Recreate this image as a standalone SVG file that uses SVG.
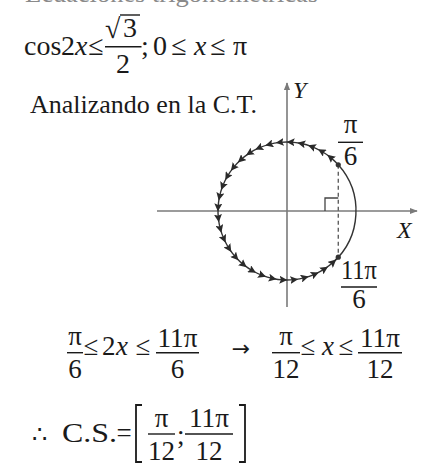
<svg xmlns="http://www.w3.org/2000/svg" width="447" height="475" viewBox="0 0 447 475">
<style>
text{font-family:"Liberation Serif","DejaVu Serif",serif;fill:#1a1a1a}
.m{font-size:28px}
.f{font-size:27px}
.i{font-style:italic}
.c{text-anchor:middle}
.bar{stroke:#1a1a1a;stroke-width:1.4}
.ax{stroke:#7a7a7a;stroke-width:1.6;fill:none}
</style>
<defs>
<marker id="ah" viewBox="0 0 10 10" refX="5" refY="5" markerWidth="8" markerHeight="8" markerUnits="userSpaceOnUse" orient="auto">
<path d="M0,0 L10,5 L0,10 L2,5 Z" fill="#2a2a2a"/>
</marker>
<marker id="axh" viewBox="0 0 10 10" refX="9" refY="5" markerWidth="8" markerHeight="8" markerUnits="userSpaceOnUse" orient="auto">
<path d="M0,1 L10,5 L0,9 Z" fill="#7a7a7a"/>
</marker>
</defs>

<text x="25" y="2" font-size="26" style="fill:#8a8a8a" textLength="293" lengthAdjust="spacingAndGlyphs">Ecuaciones trigonométricas</text>

<g id="equation">
<text class="m" x="24" y="55">cos</text>
<text class="m" x="61" y="55">2</text>
<text class="m i" x="75" y="55">x</text>
<text class="m c" x="96" y="55">≤</text>
<text class="m" x="105" y="38">√</text>
<line x1="120" y1="15" x2="140" y2="15" class="bar"/>
<text class="m" x="123" y="37">3</text>
<line x1="105" y1="46.7" x2="141.5" y2="46.7" class="bar"/>
<text class="m c" x="123" y="73">2</text>
<text class="m" x="141" y="55">;</text>
<text class="m" x="153" y="55">0</text>
<text class="m c" x="179" y="55">≤</text>
<text class="m i" x="194" y="55">x</text>
<text class="m c" x="218" y="55">≤</text>
<text class="m" x="233" y="55">π</text>
</g>

<text id="analizando" x="30" y="113" font-size="26" textLength="227" lengthAdjust="spacingAndGlyphs">Analizando en la C.T.</text>

<g id="connectors">
<line x1="157" y1="211" x2="417" y2="211" class="ax" marker-end="url(#axh)"/>
<line x1="287" y1="307" x2="287" y2="83" class="ax" marker-end="url(#axh)"/>
<path d="M333.17,262.27 A69,69 0 0 0 338.27,164.83" fill="none" stroke="#333" stroke-width="1.4"/>
<path d="M338.27,164.83 A69,69 0 0 0 330.42,157.38 A69,69 0 0 0 321.50,151.25 A69,69 0 0 0 311.73,146.58 A69,69 0 0 0 301.35,143.51 A69,69 0 0 0 290.61,142.10 A69,69 0 0 0 279.79,142.38 A69,69 0 0 0 269.14,144.35 A69,69 0 0 0 258.94,147.97 A69,69 0 0 0 249.42,153.13 A69,69 0 0 0 240.83,159.73 A69,69 0 0 0 233.38,167.58 A69,69 0 0 0 227.25,176.50 A69,69 0 0 0 222.58,186.27 A69,69 0 0 0 219.51,196.65 A69,69 0 0 0 218.10,207.39 A69,69 0 0 0 218.38,218.21 A69,69 0 0 0 220.35,228.86 A69,69 0 0 0 223.97,239.06 A69,69 0 0 0 229.13,248.58 A69,69 0 0 0 235.73,257.17 A69,69 0 0 0 243.58,264.62 A69,69 0 0 0 252.50,270.75 A69,69 0 0 0 262.27,275.42 A69,69 0 0 0 272.65,278.49 A69,69 0 0 0 283.39,279.90 A69,69 0 0 0 294.21,279.62 A69,69 0 0 0 304.86,277.65 A69,69 0 0 0 315.06,274.03 A69,69 0 0 0 324.58,268.87 A69,69 0 0 0 333.17,262.27 A69,69 0 0 0 338.27,257.17" fill="none" stroke="#333" stroke-width="1.4" marker-mid="url(#ah)"/>
<line x1="338.27" y1="164.83" x2="338.27" y2="257.17" stroke="#555" stroke-width="1.3" stroke-dasharray="4,3"/>
<path d="M338.27,198 H325 V211" fill="none" stroke="#444" stroke-width="1.3"/>
<circle cx="338.27" cy="164.83" r="2.6" fill="#333"/>
<circle cx="338.27" cy="257.17" r="2.6" fill="#333"/>
</g>

<g id="axis-labels">
<text class="i" x="293" y="98" font-size="24">Y</text>
<text class="i" x="397" y="238" font-size="24">X</text>
</g>

<g id="label-pi6">
<text class="f c" x="350.5" y="133">π</text>
<line x1="338" y1="142.3" x2="363" y2="142.3" class="bar"/>
<text class="f c" x="350.5" y="165">6</text>
</g>

<g id="label-11pi6">
<text class="f c" x="359" y="279" textLength="36" lengthAdjust="spacingAndGlyphs">11π</text>
<line x1="341" y1="287" x2="377" y2="287" class="bar"/>
<text class="f c" x="359" y="308">6</text>
</g>

<g id="inequality">
<text class="f c" x="75" y="345">π</text>
<line x1="67" y1="352.7" x2="83" y2="352.7" class="bar"/>
<text class="f c" x="75" y="378">6</text>
<text class="f c" x="91" y="355">≤</text>
<text class="f" x="102" y="355">2</text>
<text class="f i" x="116" y="355">x</text>
<text class="f c" x="143" y="355">≤</text>
<text class="f c" x="177.5" y="347" textLength="40" lengthAdjust="spacingAndGlyphs">11π</text>
<line x1="156" y1="352.7" x2="199" y2="352.7" class="bar"/>
<text class="f c" x="177.5" y="378">6</text>
<text class="c" x="241" y="356" font-size="22" style="font-family:'DejaVu Sans',sans-serif">→</text>
<text class="f c" x="286" y="345">π</text>
<line x1="272" y1="352.7" x2="300" y2="352.7" class="bar"/>
<text class="f c" x="286" y="378">12</text>
<text class="f c" x="308" y="355">≤</text>
<text class="f i" x="322" y="355">x</text>
<text class="f c" x="346" y="355">≤</text>
<text class="f c" x="380" y="347" textLength="40" lengthAdjust="spacingAndGlyphs">11π</text>
<line x1="358" y1="352.7" x2="402" y2="352.7" class="bar"/>
<text class="f c" x="380" y="378">12</text>
</g>

<g id="solution">
<text x="32" y="443" font-size="24">∴</text>
<text x="62" y="442" font-size="28" textLength="55" lengthAdjust="spacingAndGlyphs">C.S.</text>
<text class="f c" x="124" y="442">=</text>
<path d="M142,405 H136 V462 H142" fill="none" stroke="#1a1a1a" stroke-width="1.8"/>
<text class="f c" x="161.5" y="427">π</text>
<line x1="148" y1="434" x2="175" y2="434" class="bar"/>
<text class="f c" x="161.5" y="460">12</text>
<text class="f" x="177" y="444">;</text>
<text class="f c" x="209" y="427" textLength="40" lengthAdjust="spacingAndGlyphs">11π</text>
<line x1="185" y1="434" x2="233" y2="434" class="bar"/>
<text class="f c" x="209" y="460">12</text>
<path d="M239,405 H245 V462 H239" fill="none" stroke="#1a1a1a" stroke-width="1.8"/>
</g>
</svg>
